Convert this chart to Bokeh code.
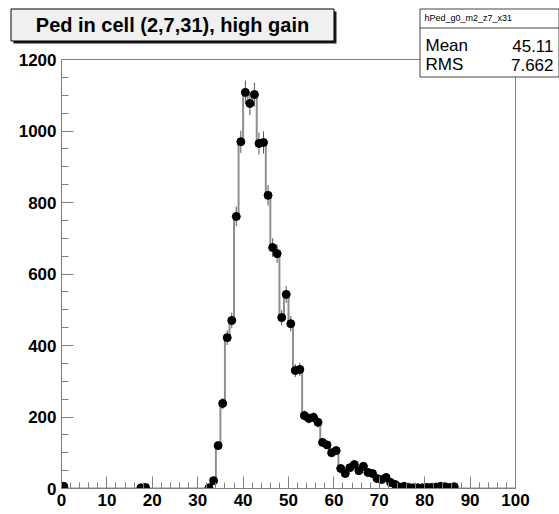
import math
from bokeh.plotting import figure
from bokeh.layouts import column
from bokeh.models import FixedTicker, Range1d, ColumnDataSource
from bokeh.core.properties import value
from bokeh.embed import file_html
from bokeh.resources import INLINE

# ---- data ----
bin_edges = list(range(0, 101))
counts = [6, 0, 0, 0, 0, 0, 0, 0, 0, 0,
          0, 0, 0, 0, 0, 0, 0, 2, 3, 0,
          0, 0, 0, 0, 0, 0, 0, 0, 0, 0,
          0, 0, 2, 22, 120, 238, 422, 470, 761, 970,
          1108, 1077, 1102, 965, 968, 820, 674, 657, 478, 543,
          461, 330, 333, 204, 196, 199, 185, 129, 122, 100,
          106, 56, 42, 58, 67, 50, 62, 45, 42, 28,
          25, 31, 17, 11, 4, 6, 3, 2, 2, 2,
          3, 3, 4, 6, 5, 3, 5, 0, 0, 0,
          0, 0, 0, 0, 0, 0, 0, 0, 0, 0]
x_ticks = list(range(0, 101, 10))
x_minor = list(range(0, 101, 2))
y_ticks = list(range(0, 1201, 200))
y_minor = list(range(0, 1201, 50))
title_text = "Ped in cell (2,7,31), high gain"
stats_name = "hPed_g0_m2_z7_x31"
stats_labels = ["Mean", "RMS"]
stats_values = ["45.11", "7.662"]

FONT = "Liberation Sans"
W, H = 559, 514

# ---------------- main histogram ----------------
p = figure(width=W, height=H, output_backend="svg", toolbar_location=None,
           x_range=Range1d(0, 100), y_range=Range1d(0, 1200), title=None,
           min_border_left=61, min_border_right=44, min_border_top=59, min_border_bottom=26)
p.frame_align = False
p.background_fill_color = "white"
p.border_fill_color = "white"
p.outline_line_color = "#808080"
p.outline_line_width = 1
p.xgrid.visible = False
p.ygrid.visible = False

p.step(x=bin_edges, y=counts + [counts[-1]], mode="after", line_color="#8f8f8f", line_width=2)

cx = [e + 0.5 for e, c in zip(bin_edges[:-1], counts) if c > 0]
cy = [c for c in counts if c > 0]
err = [math.sqrt(c) for c in cy]
src = ColumnDataSource(dict(x=cx, y=cy, lo=[a - b for a, b in zip(cy, err)],
                            hi=[a + b for a, b in zip(cy, err)]))
p.segment(x0="x", y0="lo", x1="x", y1="hi", source=src, line_color="#555555", line_width=1)
p.scatter(x="x", y="y", source=src, size=8, fill_color="black", line_color="black")

for ax in (p.xaxis[0], p.yaxis[0]):
    ax.major_tick_in = 12
    ax.major_tick_out = 0
    ax.minor_tick_in = 6
    ax.minor_tick_out = 0
    ax.axis_line_color = "#808080"
    ax.major_tick_line_color = "#808080"
    ax.minor_tick_line_color = "#808080"
    ax.major_label_text_font = FONT
    ax.major_label_text_font_style = "bold"
    ax.major_label_text_font_size = "17px"
    ax.major_label_text_color = "black"
    ax.major_label_standoff = 5
p.xaxis.ticker = FixedTicker(ticks=x_ticks, minor_ticks=x_minor)
p.yaxis.ticker = FixedTicker(ticks=y_ticks, minor_ticks=y_minor)
p.yaxis.minor_tick_in = 7

# ---------------- overlay with title box and stats box (pixel coordinates) ----------------
d = figure(width=W, height=H, output_backend="svg", toolbar_location=None, title=None,
           x_range=Range1d(0, W), y_range=Range1d(H, 0),
           min_border_left=0, min_border_right=0, min_border_top=0, min_border_bottom=0,
           x_axis_location=None, y_axis_location=None)
d.frame_align = False
d.background_fill_alpha = 0
d.border_fill_alpha = 0
d.outline_line_color = None
d.xgrid.visible = False
d.ygrid.visible = False
d.styles = {"position": "absolute", "top": "0px", "left": "0px"}

# title box + shadow
d.quad(left=[13], right=[336], top=[11], bottom=[43], fill_color="#1a1a1a", line_color=None)
d.quad(left=[10.5], right=[333.5], top=[8.5], bottom=[40.5], fill_color="#f0f0f0", line_color="black", line_width=1)
d.text(x=[172], y=[24.5], text=[title_text], text_font=value(FONT), text_font_style="bold",
       text_font_size="20px", text_align="center", text_baseline="middle", text_color="black")

# stats box
d.quad(left=[419.5], right=[558.5], top=[8.5], bottom=[76.5], fill_color="white", line_color="#444444", line_width=1)
d.segment(x0=[419.5], y0=[27.5], x1=[558.5], y1=[27.5], line_color="#444444", line_width=1)
d.text(x=[424], y=[17.5], text=[stats_name], text_font=value(FONT), text_font_size="9px",
       text_align="left", text_baseline="middle", text_color="black")
rows_y = [45, 64]
d.text(x=[425] * 2, y=rows_y, text=stats_labels, text_font=value(FONT), text_font_size="17px",
       text_align="left", text_baseline="middle", text_color="black")
d.text(x=[553] * 2, y=rows_y, text=stats_values, text_font=value(FONT), text_font_size="17px",
       text_align="right", text_baseline="middle", text_color="black")

layout = column(p, d, spacing=0)
open("out.html", "w").write(file_html(layout, INLINE))
